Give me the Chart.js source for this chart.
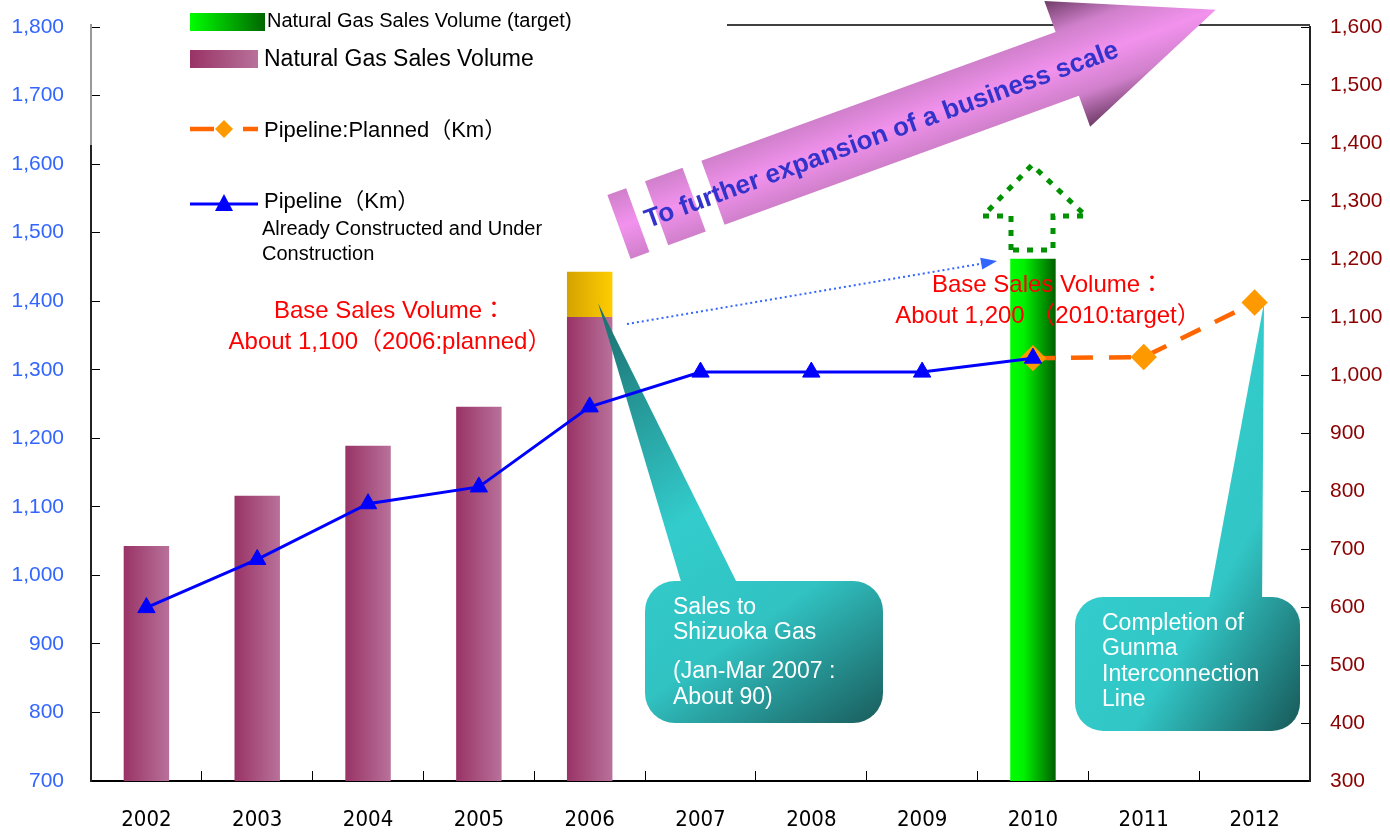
<!DOCTYPE html>
<html>
<head>
<meta charset="utf-8">
<script src="https://cdn.jsdelivr.net/npm/chart.js@4.4.1/dist/chart.umd.min.js"></script>
<style>
  html, body { margin: 0; padding: 0; background: #fff; }
  #wrap { width: 1390px; height: 833px; }
</style>
</head>
<body>
<div id="wrap"><canvas id="chart" width="1390" height="833"></canvas></div>
<script>
// ---- data ----
const years = ['2002', '2003', '2004', '2005', '2006', '2007', '2008', '2009', '2010', '2011', '2012'];

// left axis (sales volume)
const salesVolume = [1043, 1116, 1189, 1246, 1377, null, null, null, null, null, null];
const shizuokaSales = [null, null, null, null, [1377, 1443], null, null, null, null, null, null];
const salesTarget = [null, null, null, null, null, null, null, null, 1462, null, null];

// right axis (pipeline km)
const pipelineBuilt = [599, 682, 778, 807, 945, 1005, 1005, 1005, 1029, null, null];
const pipelinePlanned = [null, null, null, null, null, null, null, null, 1029, 1031, 1125];

// tick ranges
const leftRange = { min: 700, max: 1800, step: 100 };
const rightRange = { min: 300, max: 1600, step: 100 };

const ARIAL = '"Liberation Sans", Arial, "Noto Sans CJK JP", sans-serif';
const NARROW = '"Liberation Sans Narrow", "DejaVu Sans Condensed", "Liberation Sans", sans-serif';
const BAR_PCT = 0.41;

const barGradient = (ctx, stops) => {
    const chart = ctx.chart;
    if (!chart.chartArea || ctx.type !== 'data') return stops[0][1];
    const x = chart.scales.x.getPixelForValue(ctx.dataIndex);
    const half = chart.scales.x.width / years.length * BAR_PCT / 2;
    const g = chart.ctx.createLinearGradient(x - half, 0, x + half, 0);
    stops.forEach(([o, c]) => g.addColorStop(o, c));
    return g;
};

// ---- drawing helpers for the slide decorations ----
const drawCallout = (c, box, tri, grad, lines) => {
    c.save();
    const g = c.createLinearGradient(grad[0], grad[1], grad[2], grad[3]);
    grad[4].forEach(([o, col]) => g.addColorStop(o, col));
    c.fillStyle = g;
    c.beginPath();
    c.roundRect(box.x, box.y, box.w, box.h, box.r);
    c.fill();
    c.beginPath();
    c.moveTo(tri[0][0], tri[0][1]);
    c.lineTo(tri[1][0], tri[1][1]);
    c.lineTo(tri[2][0], tri[2][1]);
    c.closePath();
    c.fill();
    c.fillStyle = '#fff';
    c.font = '23px ' + ARIAL;
    c.textBaseline = 'middle';
    c.textAlign = 'left';
    lines.forEach(([t, x, y]) => c.fillText(t, x, y));
    c.restore();
};

const drawBigArrow = (c) => {
    c.save();
    c.translate(619, 227);
    c.rotate(-20 * Math.PI / 180);
    const g = c.createLinearGradient(0, -67, 0, 67);
    g.addColorStop(0, '#6E3B66');
    g.addColorStop(0.25, '#D080CB');
    g.addColorStop(0.5, '#F292EE');
    g.addColorStop(0.75, '#D080CB');
    g.addColorStop(1, '#6E3B66');
    c.fillStyle = g;
    c.fillRect(0, -34, 20, 68);
    c.fillRect(40, -34, 40, 68);
    c.beginPath();
    c.moveTo(100, -34);
    c.lineTo(477, -34);
    c.lineTo(477, -67);
    c.lineTo(635, 0);
    c.lineTo(477, 67);
    c.lineTo(477, 34);
    c.lineTo(100, 34);
    c.closePath();
    c.fill();
    c.fillStyle = '#3333CC';
    c.font = 'bold 26px ' + ARIAL;
    c.textBaseline = 'alphabetic';
    c.fillText('To further expansion of a business scale', 27, 11);
    c.restore();
};

const drawGreenArrow = (c) => {
    c.save();
    c.strokeStyle = '#009100';
    c.lineWidth = 5;
    c.setLineDash([6, 8]);
    c.beginPath();
    c.moveTo(1011, 250);
    c.lineTo(1011, 216);
    c.lineTo(983, 216);
    c.lineTo(1032, 165);
    c.lineTo(1086, 216);
    c.lineTo(1053, 216);
    c.lineTo(1053, 250);
    c.closePath();
    c.stroke();
    c.restore();
};

const drawBlueDotted = (c) => {
    const x0 = 627, y0 = 324, x1 = 997, y1 = 261;
    const a = Math.atan2(y1 - y0, x1 - x0);
    c.save();
    c.strokeStyle = '#3366FF';
    c.fillStyle = '#3366FF';
    c.lineWidth = 2;
    c.setLineDash([2, 3]);
    c.beginPath();
    c.moveTo(x0, y0);
    c.lineTo(x1 - 13 * Math.cos(a), y1 - 13 * Math.sin(a));
    c.stroke();
    c.setLineDash([]);
    c.translate(x1, y1);
    c.rotate(a);
    c.beginPath();
    c.moveTo(0, 0);
    c.lineTo(-16, -6);
    c.lineTo(-16, 6);
    c.closePath();
    c.fill();
    c.restore();
};

const drawLegend = (c) => {
    c.save();
    let g = c.createLinearGradient(190, 0, 265, 0);
    g.addColorStop(0, '#00FF00');
    g.addColorStop(1, '#006600');
    c.fillStyle = g;
    c.fillRect(190, 13, 75, 18);
    g = c.createLinearGradient(190, 0, 258, 0);
    g.addColorStop(0, '#993366');
    g.addColorStop(1, '#B8719A');
    c.fillStyle = g;
    c.fillRect(190, 50, 68, 18);

    // planned pipeline sample
    c.strokeStyle = '#FF6600';
    c.lineWidth = 4.5;
    c.beginPath();
    c.moveTo(190, 129); c.lineTo(214, 129);
    c.moveTo(243, 129); c.lineTo(258, 129);
    c.stroke();
    c.fillStyle = '#FF9900';
    c.beginPath();
    c.moveTo(224, 120); c.lineTo(233, 129); c.lineTo(224, 138); c.lineTo(215, 129);
    c.closePath();
    c.fill();

    // built pipeline sample
    c.strokeStyle = '#0000FF';
    c.lineWidth = 3;
    c.beginPath();
    c.moveTo(190, 204); c.lineTo(258, 204);
    c.stroke();
    c.fillStyle = '#0000FF';
    c.beginPath();
    c.moveTo(224, 194); c.lineTo(233, 211); c.lineTo(215, 211);
    c.closePath();
    c.fill();

    c.fillStyle = '#000';
    c.textBaseline = 'middle';
    c.textAlign = 'left';
    c.font = '20px ' + ARIAL;
    c.fillText('Natural Gas Sales Volume (target)', 267, 21);
    c.font = '23px ' + ARIAL;
    c.fillText('Natural Gas Sales Volume', 264, 60);
    c.font = '22px ' + ARIAL;
    c.fillText('Pipeline:Planned（Km）', 264, 131);
    c.fillText('Pipeline（Km）', 264, 202);
    c.font = '20px ' + ARIAL;
    c.fillText('Already Constructed and Under', 262, 229);
    c.fillText('Construction', 262, 254);
    c.restore();
};

const decorations = {
    id: 'decorations',
    beforeDatasetsDraw(chart) {
        const c = chart.ctx;
        const { top, right } = chart.chartArea;
        c.save();
        c.strokeStyle = '#000';
        c.lineWidth = 1.5;
        c.beginPath();
        c.moveTo(727, top - 2);
        c.lineTo(right, top - 2);
        c.stroke();
        c.restore();
    },
    beforeDatasetDraw(chart, args) {
        if (args.index !== 1) return;
        const c = chart.ctx;
        drawCallout(c, { x: 645, y: 581, w: 238, h: 142, r: 30 },
            [[685, 595], [598, 303], [743, 595]],
            [598, 303, 883, 723, [[0, '#1B6B6B'], [0.45, '#33CCCC'], [0.7, '#31C2C2'], [1, '#1A5C5C']]],
            [['Sales to', 673, 608], ['Shizuoka Gas', 673, 633], ['(Jan-Mar 2007 :', 673, 672], ['About 90)', 673, 698]]);
        drawCallout(c, { x: 1075, y: 597, w: 225, h: 134, r: 28 },
            [[1207, 610], [1264, 303], [1262, 610]],
            [1075, 597, 1300, 731, [[0, '#33CCCC'], [0.45, '#32C6C6'], [1, '#185858']]],
            [['Completion of', 1102, 624], ['Gunma', 1102, 649], ['Interconnection', 1102, 675], ['Line', 1102, 700]]);
    },
    afterDatasetsDraw(chart) {
        const c = chart.ctx;
        c.save();
        c.fillStyle = '#FF0000';
        c.font = '24px ' + ARIAL;
        c.textAlign = 'center';
        c.textBaseline = 'middle';
        c.fillText('Base Sales Volume：', 390, 311);
        c.fillText('About 1,100（2006:planned）', 390, 342);
        c.fillText('Base Sales Volume：', 1048, 285);
        c.fillText('About 1,200 （2010:target）', 1048, 316);
        c.restore();
    },
    afterDraw(chart) {
        const c = chart.ctx;
        const { left, top } = chart.chartArea;
        c.save();
        c.strokeStyle = '#999';
        c.lineWidth = 2;
        c.beginPath();
        c.moveTo(left, top - 3);
        c.lineTo(left, 145);
        c.stroke();
        c.restore();
        drawLegend(c);
        drawBigArrow(c);
        drawGreenArrow(c);
        drawBlueDotted(c);
    }
};

// vertical axes: fixed width, no extra label padding so the plot area is fixed
const fixY = (w) => (s) => { s.width = w; s.paddingTop = 0; s.paddingBottom = 0; };

new Chart(document.getElementById('chart'), {
    type: 'bar',
    data: {
        labels: years,
        datasets: [
            {
                type: 'line',
                label: 'Pipeline(Km)',
                data: pipelineBuilt,
                yAxisID: 'y1',
                borderColor: '#0000FF',
                backgroundColor: '#0000FF',
                borderWidth: 3,
                pointStyle: 'triangle',
                pointRadius: 10,
                pointBorderWidth: 1,
                tension: 0,
                fill: false
            },
            {
                type: 'line',
                label: 'Pipeline:Planned(Km)',
                data: pipelinePlanned,
                yAxisID: 'y1',
                borderColor: '#FF6600',
                backgroundColor: '#FF9900',
                pointBorderColor: '#FF9900',
                borderWidth: 4.5,
                borderDash: [22, 16],
                pointStyle: 'rectRot',
                pointRadius: 10,
                tension: 0,
                fill: false
            },
            {
                label: 'Sales to Shizuoka Gas',
                data: shizuokaSales,
                yAxisID: 'y',
                grouped: false,
                categoryPercentage: 1,
                barPercentage: BAR_PCT,
                backgroundColor: (ctx) => barGradient(ctx, [[0, '#D4A300'], [1, '#FFCC00']])
            },
            {
                label: 'Natural Gas Sales Volume (target)',
                data: salesTarget,
                yAxisID: 'y',
                grouped: false,
                categoryPercentage: 1,
                barPercentage: BAR_PCT,
                backgroundColor: (ctx) => barGradient(ctx, [[0, '#00FF00'], [0.3, '#00F000'], [1, '#005E00']])
            },
            {
                label: 'Natural Gas Sales Volume',
                data: salesVolume,
                yAxisID: 'y',
                grouped: false,
                categoryPercentage: 1,
                barPercentage: BAR_PCT,
                backgroundColor: (ctx) => barGradient(ctx, [[0, '#993366'], [1, '#B8719A']])
            }
        ]
    },
    options: {
        responsive: false,
        animation: false,
        devicePixelRatio: 1,
        locale: 'en-US',
        layout: { padding: { top: 27, left: 0, right: 0, bottom: 0 } },
        plugins: { legend: { display: false }, tooltip: { enabled: false } },
        scales: {
            x: {
                z: 1,
                grid: { drawOnChartArea: false, tickLength: -10, color: '#000', offset: true },
                border: { display: true, color: '#000', width: 2 },
                ticks: { color: '#000', font: { family: NARROW, size: 22 }, padding: 36, maxRotation: 0 },
                afterFit: (s) => { s.height = 52; }
            },
            y: {
                position: 'left',
                min: leftRange.min,
                max: leftRange.max,
                ticks: { stepSize: leftRange.step, color: '#3366FF', font: { family: ARIAL, size: 21 }, padding: 36 },
                grid: { drawOnChartArea: false, tickLength: -9, color: '#000' },
                border: { display: true, color: '#222', width: 2 },
                afterFit: fixY(91)
            },
            y1: {
                position: 'right',
                min: rightRange.min,
                max: rightRange.max,
                ticks: { stepSize: rightRange.step, color: '#8B0000', font: { family: ARIAL, size: 21 }, padding: 29 },
                grid: { drawOnChartArea: false, tickLength: -9, color: '#000' },
                border: { display: true, color: '#222', width: 2 },
                afterFit: fixY(80)
            }
        }
    },
    plugins: [decorations]
});
</script>
</body>
</html>
